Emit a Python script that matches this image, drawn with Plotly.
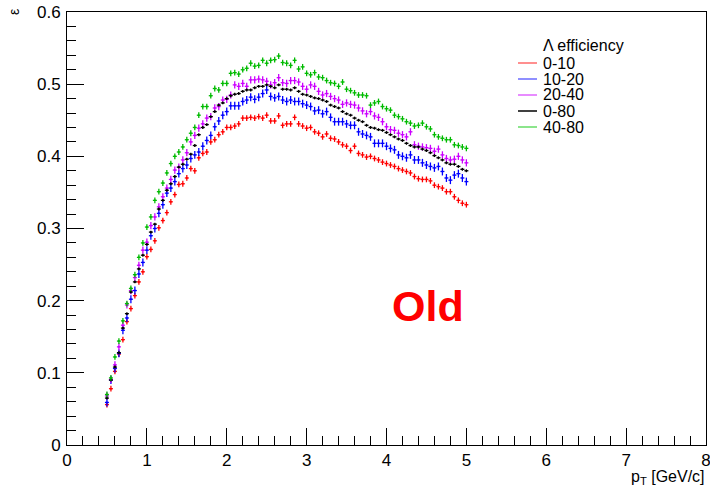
import plotly.graph_objects as go

# bin centres (pT, GeV/c)
pt = [0.50, 0.55, 0.60, 0.65, 0.70, 0.75, 0.80, 0.85, 0.90, 0.95,
      1.00, 1.05, 1.10, 1.15, 1.20, 1.25, 1.30, 1.35, 1.40, 1.45,
      1.50, 1.55, 1.60, 1.65, 1.70, 1.75, 1.80, 1.85, 1.90, 1.95,
      2.00, 2.05, 2.10, 2.15, 2.20, 2.25, 2.30, 2.35, 2.40, 2.45,
      2.50, 2.55, 2.60, 2.65, 2.70, 2.75, 2.80, 2.85, 2.90, 2.95,
      3.00, 3.05, 3.10, 3.15, 3.20, 3.25, 3.30, 3.35, 3.40, 3.45,
      3.50, 3.55, 3.60, 3.65, 3.70, 3.75, 3.80, 3.85, 3.90, 3.95,
      4.00, 4.05, 4.10, 4.15, 4.20, 4.25, 4.30, 4.35, 4.40, 4.45,
      4.50, 4.55, 4.60, 4.65, 4.70, 4.75, 4.80, 4.85, 4.90, 4.95,
      5.00]

eff_0_10 = [0.056, 0.078, 0.102, 0.126, 0.146, 0.171, 0.189, 0.207, 0.226, 0.240,
            0.261, 0.271, 0.283, 0.301, 0.311, 0.322, 0.337, 0.347, 0.361, 0.362,
            0.370, 0.383, 0.380, 0.398, 0.404, 0.406, 0.420, 0.423, 0.430, 0.434,
            0.440, 0.440, 0.442, 0.445, 0.453, 0.453, 0.454, 0.453, 0.455, 0.453,
            0.457, 0.449, 0.449, 0.456, 0.443, 0.445, 0.445, 0.454, 0.445, 0.442,
            0.439, 0.440, 0.434, 0.432, 0.427, 0.431, 0.425, 0.424, 0.420, 0.416,
            0.414, 0.408, 0.414, 0.404, 0.402, 0.399, 0.400, 0.397, 0.395, 0.392,
            0.390, 0.388, 0.386, 0.383, 0.381, 0.379, 0.377, 0.372, 0.369, 0.368,
            0.368, 0.366, 0.360, 0.358, 0.356, 0.351, 0.351, 0.344, 0.339, 0.335,
            0.333]

eff_10_20 = [0.059, 0.090, 0.106, 0.127, 0.159, 0.176, 0.202, 0.214, 0.237, 0.253,
             0.270, 0.290, 0.300, 0.321, 0.333, 0.349, 0.356, 0.365, 0.376, 0.383,
             0.388, 0.397, 0.402, 0.406, 0.414, 0.422, 0.429, 0.441, 0.449, 0.457,
             0.462, 0.470, 0.470, 0.470, 0.476, 0.478, 0.482, 0.479, 0.482, 0.487,
             0.492, 0.483, 0.481, 0.483, 0.478, 0.476, 0.478, 0.476, 0.476, 0.473,
             0.471, 0.469, 0.463, 0.464, 0.459, 0.462, 0.454, 0.448, 0.448, 0.448,
             0.445, 0.443, 0.443, 0.434, 0.431, 0.429, 0.427, 0.418, 0.418, 0.418,
             0.414, 0.411, 0.409, 0.402, 0.400, 0.398, 0.402, 0.395, 0.395, 0.391,
             0.388, 0.386, 0.384, 0.386, 0.379, 0.370, 0.367, 0.374, 0.376, 0.370,
             0.365]

eff_20_40 = [0.068, 0.091, 0.111, 0.136, 0.166, 0.194, 0.214, 0.232, 0.249, 0.270,
             0.281, 0.304, 0.316, 0.330, 0.344, 0.356, 0.368, 0.381, 0.385, 0.395,
             0.405, 0.420, 0.429, 0.439, 0.445, 0.453, 0.455, 0.467, 0.469, 0.478,
             0.479, 0.485, 0.499, 0.497, 0.501, 0.497, 0.506, 0.506, 0.507, 0.506,
             0.504, 0.499, 0.502, 0.509, 0.502, 0.501, 0.505, 0.505, 0.503, 0.497,
             0.493, 0.499, 0.497, 0.490, 0.485, 0.487, 0.483, 0.480, 0.478, 0.472,
             0.474, 0.472, 0.471, 0.467, 0.463, 0.459, 0.462, 0.456, 0.454, 0.448,
             0.441, 0.437, 0.436, 0.432, 0.430, 0.427, 0.434, 0.416, 0.414, 0.413,
             0.412, 0.411, 0.407, 0.410, 0.402, 0.397, 0.395, 0.396, 0.400, 0.395,
             0.391]

eff_0_80 = [0.065, 0.090, 0.108, 0.128, 0.162, 0.182, 0.212, 0.226, 0.244, 0.263,
            0.278, 0.295, 0.306, 0.327, 0.339, 0.353, 0.362, 0.372, 0.385, 0.389,
            0.396, 0.403, 0.415, 0.430, 0.440, 0.444, 0.455, 0.462, 0.471, 0.474,
            0.480, 0.484, 0.486, 0.487, 0.490, 0.492, 0.492, 0.495, 0.497, 0.497,
            0.499, 0.497, 0.495, 0.499, 0.493, 0.493, 0.492, 0.495, 0.490, 0.486,
            0.485, 0.483, 0.481, 0.480, 0.478, 0.476, 0.471, 0.469, 0.467, 0.462,
            0.459, 0.457, 0.453, 0.450, 0.448, 0.443, 0.440, 0.439, 0.437, 0.436,
            0.433, 0.430, 0.427, 0.424, 0.422, 0.418, 0.415, 0.413, 0.413, 0.410,
            0.408, 0.405, 0.401, 0.398, 0.395, 0.391, 0.389, 0.389, 0.386, 0.382,
            0.380]

eff_40_80 = [0.070, 0.093, 0.122, 0.144, 0.172, 0.196, 0.217, 0.236, 0.260, 0.280,
             0.302, 0.316, 0.339, 0.351, 0.363, 0.377, 0.390, 0.400, 0.406, 0.413,
             0.423, 0.432, 0.440, 0.457, 0.469, 0.469, 0.484, 0.494, 0.492, 0.501,
             0.501, 0.515, 0.516, 0.514, 0.520, 0.522, 0.529, 0.525, 0.526, 0.533,
             0.529, 0.533, 0.534, 0.539, 0.530, 0.529, 0.526, 0.533, 0.521, 0.524,
             0.515, 0.513, 0.516, 0.510, 0.509, 0.505, 0.502, 0.501, 0.497, 0.503,
             0.493, 0.491, 0.488, 0.485, 0.485, 0.484, 0.471, 0.474, 0.476, 0.469,
             0.466, 0.464, 0.457, 0.455, 0.452, 0.448, 0.446, 0.442, 0.443, 0.446,
             0.441, 0.438, 0.430, 0.427, 0.425, 0.423, 0.423, 0.416, 0.415, 0.413,
             0.411]

series_names = ["0-10", "10-20", "20-40", "0-80", "40-80"]
series_values = [eff_0_10, eff_10_20, eff_20_40, eff_0_80, eff_40_80]
series_errors = [0.004, 0.0055, 0.005, 0.002, 0.004]
series_colors = ["#ff0000", "#0000ff", "#cc00ff", "#000000", "#00bb00"]
legend_line_colors = ["#ff6a6a", "#6a6aff", "#e066ff", "#000000", "#66dd66"]

legend_title = "Λ efficiency"
x_title = "p<sub>T</sub> [GeV/c]"
y_title = "ε"
stamp_text = "Old"

fig = go.Figure()
for name, vals, err, col in zip(series_names, series_values, series_errors, series_colors):
    fig.add_trace(go.Scatter(
        x=pt, y=vals, mode="markers", name=name,
        marker=dict(color=col, size=1.5, symbol="square"),
        error_x=dict(type="constant", value=0.025, color=col, thickness=1.3, width=0),
        error_y=dict(type="constant", value=err, color=col, thickness=1.3, width=0),
        showlegend=False,
    ))

# manual ROOT-style legend
leg_x0, leg_x1, txt_x = 518, 537, 541
W, H = 710, 487
ml, mr, mt, mb = 67, 4, 12, 42
pw, ph = W - ml - mr, H - mt - mb

def px2paper_x(px):
    return (px - ml) / pw

def px2paper_y(py):
    return (H - mb - py) / ph

fig.add_annotation(x=px2paper_x(txt_x), y=px2paper_y(45), xref="paper", yref="paper",
                   text=legend_title, showarrow=False, xanchor="left", yanchor="middle",
                   font=dict(size=16, color="black"))
row_y = [63, 79, 95, 111, 127]
for name, lc, ry in zip(series_names, legend_line_colors, row_y):
    fig.add_shape(type="line", xref="paper", yref="paper",
                  x0=px2paper_x(leg_x0), x1=px2paper_x(leg_x1),
                  y0=px2paper_y(ry), y1=px2paper_y(ry),
                  line=dict(color=lc, width=1.5))
    fig.add_annotation(x=px2paper_x(txt_x), y=px2paper_y(ry), xref="paper", yref="paper",
                       text=name, showarrow=False, xanchor="left", yanchor="middle",
                       font=dict(size=16, color="black"))

fig.add_annotation(x=4.52, y=0.193, xref="x", yref="y", text="<b>" + stamp_text + "</b>",
                   showarrow=False, font=dict(size=43, color="#ff0000"))

fig.add_annotation(x=1, y=0, xref="paper", yref="paper", text=x_title, showarrow=False,
                   xanchor="right", yanchor="top", yshift=-21, xshift=1,
                   font=dict(size=16, color="black"))
fig.add_annotation(x=0, y=1, xref="paper", yref="paper", text=y_title, showarrow=False,
                   xanchor="center", yanchor="top", xshift=-53, yshift=5, textangle=-90,
                   font=dict(size=14, color="black"))

axis_font = dict(family="Liberation Sans, Arial, sans-serif", size=17, color="black")
fig.update_xaxes(range=[0, 8], dtick=1, tick0=0, ticks="inside", ticklen=17, tickcolor="black",
                 showline=True, linecolor="black", linewidth=1, mirror=True, automargin=False,
                 showgrid=False, zeroline=False, tickfont=axis_font, ticklabeloverflow="allow",
                 minor=dict(dtick=0.2, tick0=0, ticks="inside", ticklen=9, tickcolor="black", showgrid=False))
fig.update_yaxes(range=[0, 0.6], dtick=0.1, tick0=0, ticks="inside", ticklen=17, tickcolor="black",
                 showline=True, linecolor="black", linewidth=1, mirror=True, automargin=False,
                 showgrid=False, zeroline=False, tickfont=axis_font, tickformat="~g",
                 ticklabeloverflow="allow", ticklabelstandoff=2,
                 minor=dict(dtick=0.02, tick0=0, ticks="inside", ticklen=9, tickcolor="black", showgrid=False))

fig.update_layout(width=W, height=H, margin=dict(l=ml, r=mr, t=mt, b=mb, autoexpand=False),
                  paper_bgcolor="white", plot_bgcolor="white",
                  font=dict(family="Liberation Sans, Arial, sans-serif", color="black"))

fig.write_html("out.html")
